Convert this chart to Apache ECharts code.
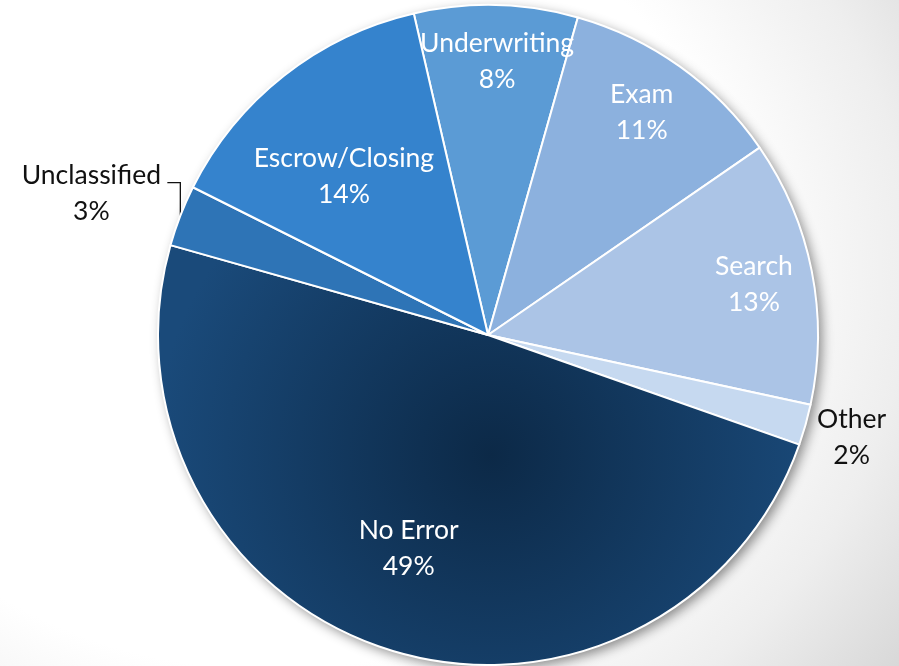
<!DOCTYPE html>
<html>
<head>
<meta charset="utf-8">
<script src="https://cdn.jsdelivr.net/npm/echarts@6/dist/echarts.min.js"></script>
<style>
  html, body { margin: 0; padding: 0; }
  body {
    width: 899px; height: 666px; overflow: hidden;
    background: radial-gradient(ellipse 95% 110% at 30% 40%, #ffffff 55%, #eeeeee 75%, #cdcdcd 100%);
  }
  #chart { width: 899px; height: 666px; }
</style>
</head>
<body>
<div id="chart"></div>
<script>
// Error source breakdown, clockwise from the top
const categories = ['Underwriting', 'Exam', 'Search', 'Other', 'No Error', 'Unclassified', 'Escrow/Closing'];
const shares = [8, 11, 13, 2, 49, 3, 14];

// Slice fills (No Error uses a radial shade)
const sliceColors = ['#5b9bd5', '#8cb1de', '#abc4e6', '#c6d9f0', null, '#2e74b6', '#3583cd'];
// Inside label placement: fraction of the radius (null = outside label) and angular nudge in degrees
const labelRadius = [0.83, 0.82, 0.82, null, 0.69, null, 0.65];
const labelNudge = [0.5, -1, 0.5, 0, 2.8, 0, -4];

const CX = 488, CY = 335, R = 330;
const START = 103;           // echarts startAngle (deg, ccw from 3 o'clock)
const total = shares.reduce((a, b) => a + b, 0);

// mid angle of each slice, clockwise from 12 o'clock, in radians
const midAngles = [];
let acc = 0;
shares.forEach(v => {
  const a0 = (90 - START) + acc / total * 360;
  acc += v;
  const a1 = (90 - START) + acc / total * 360;
  midAngles.push((a0 + a1) / 2 * Math.PI / 180);
});
const polar = (ang, rad) => [CX + rad * Math.sin(ang), CY - rad * Math.cos(ang)];

const noErrorFill = new echarts.graphic.RadialGradient(0.52, 0.5, 0.8, [
  { offset: 0, color: '#0c2947' },
  { offset: 1, color: '#1a4a7a' }
]);

const data = categories.map((name, i) => {
  const inside = labelRadius[i] !== null;
  return {
    name,
    value: shares[i],
    itemStyle: { color: i === 4 ? noErrorFill : sliceColors[i] },
    label: { color: inside ? '#ffffff' : '#111111' },
    labelLine: { show: name === 'Unclassified' }
  };
});

const chart = echarts.init(document.getElementById('chart'), null, { renderer: 'canvas' });
chart.setOption({
  backgroundColor: 'transparent',
  animation: false,
  series: [
    {
      // soft drop shadow under the pie
      type: 'pie',
      silent: true,
      z: 1,
      center: [CX, CY],
      radius: [0, R],
      label: { show: false },
      labelLine: { show: false },
      itemStyle: {
        color: '#ffffff',
        shadowBlur: 12,
        shadowOffsetX: 4,
        shadowOffsetY: 4,
        shadowColor: 'rgba(0,0,0,0.45)'
      },
      data: [{ value: 1, name: '' }]
    },
    {
      type: 'pie',
      z: 2,
      center: [CX, CY],
      radius: [0, R],
      startAngle: START,
      clockwise: true,
      avoidLabelOverlap: false,
      itemStyle: { borderColor: '#ffffff', borderWidth: 2 },
      label: {
        show: true,
        position: 'outside',
        formatter: p => p.name + '\n' + p.value + '%',
        fontFamily: 'Lato',
        fontSize: 26.5,
        lineHeight: 36,
        align: 'center'
      },
      labelLine: {
        lineStyle: { color: '#111111', width: 1.3 }
      },
      labelLayout: params => {
        const i = params.dataIndex;
        const ang = midAngles[i] + labelNudge[i] * Math.PI / 180;
        if (labelRadius[i] !== null) {
          const [x, y] = polar(ang, labelRadius[i] * R);
          return { x, y, align: 'center', verticalAlign: 'middle' };
        }
        if (categories[i] === 'Unclassified') {
          const edge = polar(midAngles[i], R);
          const elbow = [edge[0], edge[1] - 33];
          const end = [elbow[0] - 13, elbow[1]];
          return {
            x: end[0] - 76, y: end[1] + 11,
            align: 'center', verticalAlign: 'middle',
            labelLinePoints: [edge, elbow, end]
          };
        }
        const [x, y] = polar(ang, R * 1.145);
        return { x, y, align: 'center', verticalAlign: 'middle' };
      },
      data
    }
  ]
});
</script>
</body>
</html>
